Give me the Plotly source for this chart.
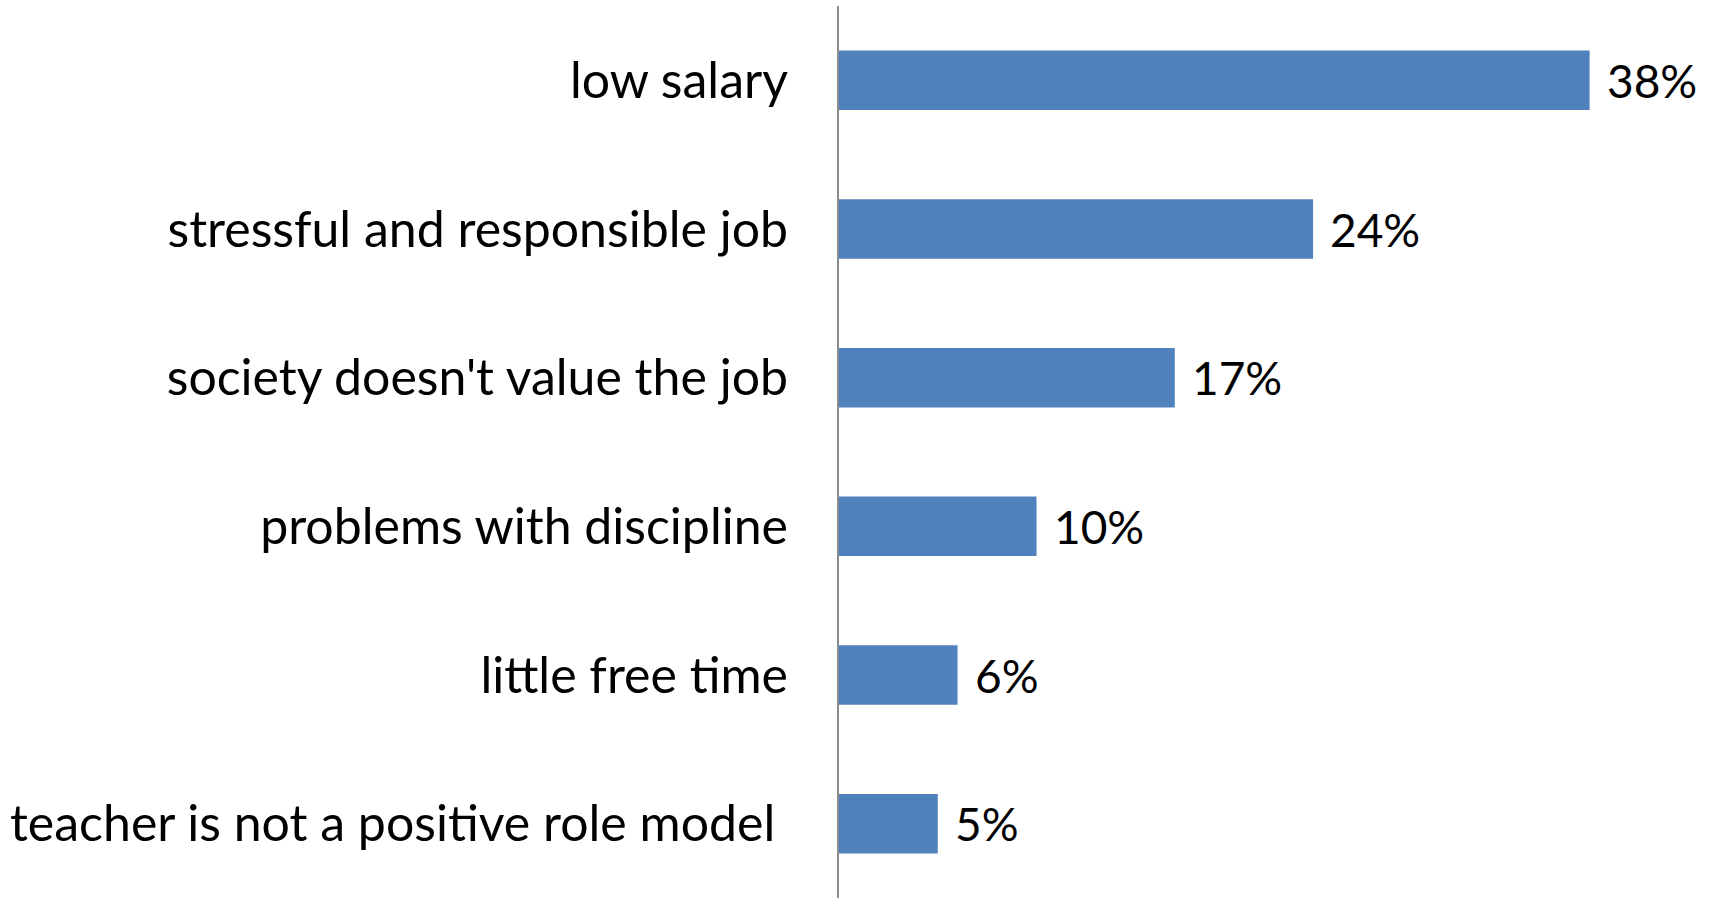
import plotly.graph_objects as go

# Reasons given for not choosing the teaching profession (share of answers, %)
reasons = [
    "low salary",
    "stressful and responsible job",
    "society doesn't value the job",
    "problems with discipline",
    "little free time",
    "teacher is not a positive role model\u00a0",
]
shares = [38, 24, 17, 10, 6, 5]

BAR_COLOR = "#4F81BD"
FONT = "Lato"

fig = go.Figure(
    go.Bar(
        x=shares,
        y=reasons,
        orientation="h",
        marker=dict(color=BAR_COLOR, line=dict(width=0)),
        hoverinfo="skip",
    )
)

# value labels to the right of each bar
for r, s in zip(reasons, shares):
    fig.add_annotation(
        x=s, y=r, text=f"{s}%", showarrow=False,
        xanchor="left", yanchor="middle", xshift=15,
        font=dict(family=FONT, size=46, color="#000000"),
    )

fig.update_layout(
    width=1717, height=898,
    margin=dict(l=839, r=0, t=6, b=0),
    paper_bgcolor="white", plot_bgcolor="white",
    bargap=0.6,
    showlegend=False,
    font=dict(family=FONT, color="#000000"),
)
fig.update_xaxes(
    range=[0, 44.45], visible=False, showgrid=False, zeroline=False,
)
fig.update_yaxes(
    autorange="reversed", showgrid=False, zeroline=False,
    showline=True, linecolor="#8C8C8C", linewidth=2,
    ticks="", ticklabelstandoff=39,
    tickfont=dict(family=FONT, size=50, color="#000000"),
)

fig.write_html("out.html")
